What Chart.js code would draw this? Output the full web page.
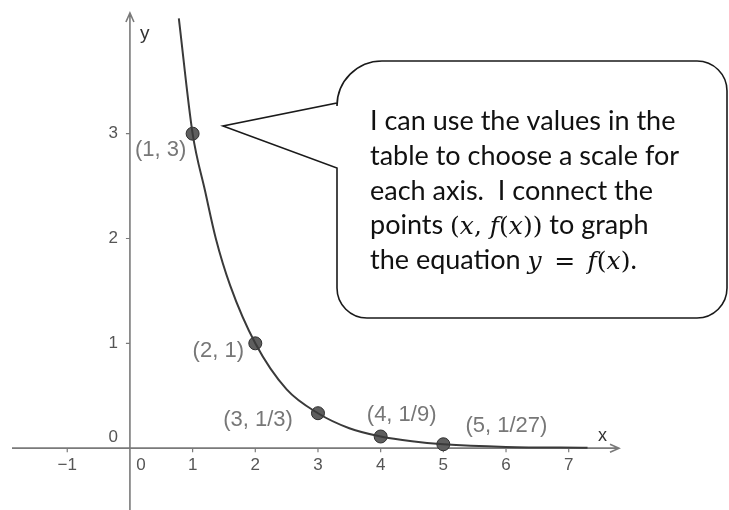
<!DOCTYPE html>
<html>
<head>
<meta charset="utf-8">
<script src="https://cdn.jsdelivr.net/npm/chart.js@4.4.1/dist/chart.umd.min.js"></script>
<style>
  html, body { margin: 0; padding: 0; background: #fff; }
  #wrap { position: relative; width: 729px; height: 510px; }
</style>
</head>
<body>
<div id="wrap"><canvas id="graph"></canvas></div>
<script>
// table values of f(x)
const pointX      = [1, 2, 3, 4, 5];
const pointY      = [3, 1, 1 / 3, 1 / 9, 1 / 27];
const pointLabels = ['(1, 3)', '(2, 1)', '(3, 1/3)', '(4, 1/9)', '(5, 1/27)'];

// points along the drawn curve
const curveX = [0.78, 1, 1.2, 1.37, 1.6, 2, 2.5, 3, 3.5, 4, 4.5, 5, 6, 7.3];
const curveY = [4.1, 3, 2.45, 2, 1.55, 1, 0.56, 0.333, 0.19, 0.111, 0.065, 0.037, 0.012, 0.004];

// axis ticks
const xTicks = [-1, 0, 1, 2, 3, 4, 5, 6, 7];
const yTicks = [0, 1, 2, 3];

// bubble text, lines split into runs: [text, kind] (0 text, 1 math italic, 2 math upright)
const noteLines = [
  [['I can use the values in the', 0]],
  [['table to choose a scale for', 0]],
  [['each axis.  I connect the', 0]],
  [['points ', 0], ['(', 2], ['x', 1], [', ', 2], ['f', 1], ['(', 2], ['x', 1], ['))', 2], [' to graph', 0]],
  [['the equation ', 0], ['y', 1], ['\u2002=\u2002', 2], ['f', 1], ['(', 2], ['x', 1], [')', 2], ['.', 0]],
];

const labelOffsets = [[-32, 16], [-37, 8], [-60, 7], [21, -22], [63, -18]];

const axesPlugin = {
  id: 'axes',
  beforeDatasetsDraw(chart) {
    const { ctx, scales: { x, y } } = chart;
    const ox = x.getPixelForValue(0);
    const oy = y.getPixelForValue(0);
    ctx.save();
    ctx.strokeStyle = '#7a7a7a';
    ctx.lineWidth = 1.6;

    // y axis with arrow
    ctx.beginPath();
    ctx.moveTo(ox, 510);
    ctx.lineTo(ox, 13);
    ctx.moveTo(ox - 4, 22);
    ctx.lineTo(ox, 13);
    ctx.lineTo(ox + 4, 22);
    // x axis with arrow
    ctx.moveTo(12, oy);
    ctx.lineTo(619, oy);
    ctx.moveTo(610, oy - 4);
    ctx.lineTo(619, oy);
    ctx.lineTo(610, oy + 4);
    ctx.stroke();

    // tick marks
    ctx.lineWidth = 1.2;
    ctx.beginPath();
    xTicks.forEach(v => {
      if (v === 0) return;
      const px = x.getPixelForValue(v);
      ctx.moveTo(px, oy);
      ctx.lineTo(px, oy + 4);
    });
    yTicks.forEach(v => {
      if (v === 0) return;
      const py = y.getPixelForValue(v);
      ctx.moveTo(ox - 4, py);
      ctx.lineTo(ox, py);
    });
    ctx.stroke();

    // tick labels
    ctx.fillStyle = '#555';
    ctx.font = '17px "Liberation Sans", Arial, sans-serif';
    ctx.textBaseline = 'middle';
    ctx.textAlign = 'center';
    xTicks.forEach(v => {
      const px = x.getPixelForValue(v) + (v === 0 ? 11 : 0);
      ctx.fillText(String(v).replace('-', '\u2212'), px, oy + 17);
    });
    ctx.textAlign = 'right';
    yTicks.forEach(v => {
      const py = y.getPixelForValue(v) - (v === 0 ? 11 : 0);
      ctx.fillText(String(v), ox - 12, py);
    });

    // axis names
    ctx.fillStyle = '#333';
    ctx.textAlign = 'left';
    ctx.font = '19px "Liberation Sans", Arial, sans-serif';
    ctx.fillText('y', ox + 10, 34);
    ctx.font = '18px "Liberation Sans", Arial, sans-serif';
    ctx.fillText('x', 598, oy - 12);
    ctx.restore();
  },
  afterDatasetsDraw(chart) {
    const { ctx, scales: { x, y } } = chart;
    ctx.save();

    // point labels
    ctx.fillStyle = '#777';
    ctx.font = '22px "Liberation Sans", Arial, sans-serif';
    ctx.textAlign = 'center';
    ctx.textBaseline = 'middle';
    pointLabels.forEach((t, i) => {
      const [dx, dy] = labelOffsets[i];
      ctx.fillText(t, x.getPixelForValue(pointX[i]) + dx, y.getPixelForValue(pointY[i]) + dy);
    });

    // speech bubble
    const L = 337, T = 61, R = 727, B = 318;
    ctx.beginPath();
    ctx.moveTo(L + 45, T);
    ctx.lineTo(R - 30, T);
    ctx.arcTo(R, T, R, B, 30);
    ctx.arcTo(R, B, L, B, 30);
    ctx.arcTo(L, B, L, T, 30);
    ctx.lineTo(L, 168);
    ctx.lineTo(223, 126);
    ctx.lineTo(L, 103);
    ctx.arcTo(L, T, R, T, 45);
    ctx.closePath();
    ctx.fillStyle = '#fff';
    ctx.fill();
    ctx.strokeStyle = '#1a1a1a';
    ctx.lineWidth = 1.6;
    ctx.stroke();

    // bubble text
    ctx.fillStyle = '#111';
    ctx.textAlign = 'left';
    ctx.textBaseline = 'alphabetic';
    const fonts = [
      '27px Lato, "Open Sans", sans-serif',
      'italic 25px "DejaVu Serif", "Liberation Serif", serif',
      '25px "DejaVu Serif", "Liberation Serif", serif',
    ];
    noteLines.forEach((runs, i) => {
      let cx = 370;
      const by = 130 + i * 34.75;
      runs.forEach(([t, kind]) => {
        ctx.font = fonts[kind];
        ctx.fillText(t, cx, by);
        cx += ctx.measureText(t).width;
      });
    });
    ctx.restore();
  }
};

new Chart(document.getElementById('graph'), {
  type: 'scatter',
  data: {
    datasets: [
      {
        type: 'line',
        data: curveX.map((v, i) => ({ x: v, y: curveY[i] })),
        borderColor: '#3a3a3a',
        borderWidth: 2,
        pointRadius: 0,
        cubicInterpolationMode: 'monotone',
        fill: false,
      },
      {
        data: pointX.map((v, i) => ({ x: v, y: pointY[i] })),
        backgroundColor: '#5e5e5e',
        borderColor: '#2e2e2e',
        borderWidth: 1,
        pointRadius: 6.5,
      }
    ]
  },
  options: {
    responsive: true,
    maintainAspectRatio: false,
    animation: false,
    events: [],
    layout: { padding: 0 },
    plugins: { legend: { display: false }, tooltip: { enabled: false } },
    scales: {
      x: { type: 'linear', display: false, min: -125 / 64, max: 604 / 64 },
      y: { type: 'linear', display: false, min: -56 / 108, max: 454 / 108 },
    }
  },
  plugins: [axesPlugin]
});
</script>
</body>
</html>
